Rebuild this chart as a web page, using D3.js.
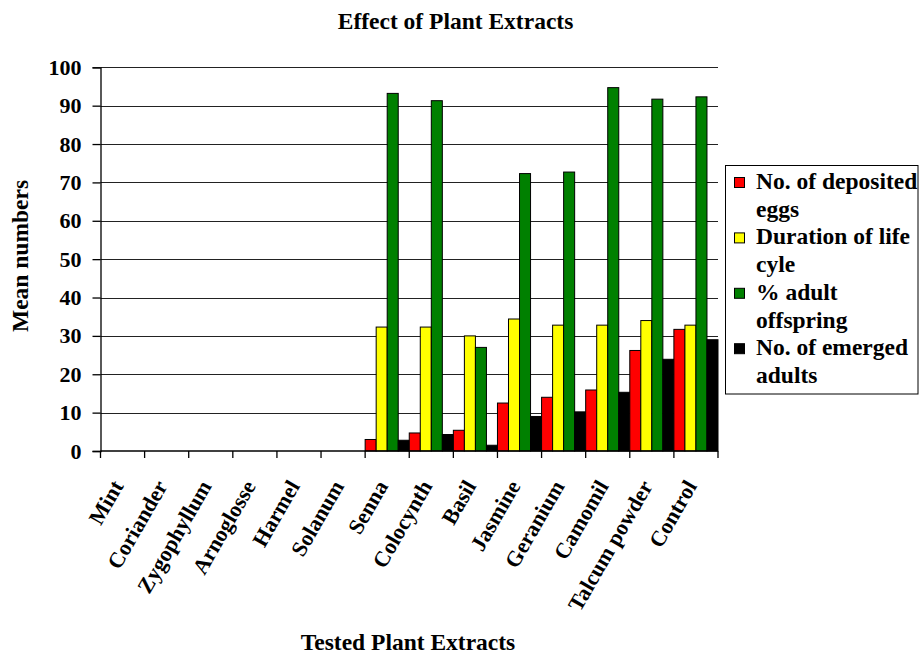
<!DOCTYPE html>
<html>
<head>
<meta charset="utf-8">
<script src="https://cdn.jsdelivr.net/npm/d3@7"></script>
<style>
  html, body { margin: 0; padding: 0; background: #fff; }
  svg { display: block; }
  text { font-family: "Liberation Serif", "Times New Roman", serif; font-weight: bold; fill: #000; }
</style>
</head>
<body>
<script>
// Plant extracts tested and the four measured quantities
const categories = ["Mint", "Coriander", "Zygophyllum", "Arnoglosse", "Harmel", "Solanum",
  "Senna", "Colocynth", "Basil", "Jasmine", "Geranium", "Camomil", "Talcum powder", "Control"];
const depositedEggs = [0, 0, 0, 0, 0, 0, 3.0, 4.7, 5.4, 12.5, 14.0, 15.9, 26.2, 31.7];
const lifeCycle     = [0, 0, 0, 0, 0, 0, 32.3, 32.3, 30.0, 34.4, 32.8, 32.8, 34.0, 32.8];
const adultOffspring = [0, 0, 0, 0, 0, 0, 93.2, 91.3, 27.0, 72.3, 72.7, 94.7, 91.7, 92.3];
const emergedAdults = [0, 0, 0, 0, 0, 0, 2.8, 4.3, 1.5, 9.0, 10.2, 15.3, 23.9, 29.0];
const seriesNames = [["No. of deposited", "eggs"], ["Duration of life", "cyle"],
  ["% adult", "offspring"], ["No. of emerged", "adults"]];
const seriesColors = ["#ff0000", "#ffff00", "#008000", "#000000"];
const yTicks = [0, 10, 20, 30, 40, 50, 60, 70, 80, 90, 100];

const seriesValues = [depositedEggs, lifeCycle, adultOffspring, emergedAdults];

const W = 920, H = 655;
const plot = { left: 100.5, right: 718, top: 67.3, bottom: 451 };
const tickFont = "22px", titleFont = "23.5px";

const svg = d3.select("body").append("svg").attr("width", W).attr("height", H);

const x = d3.scaleBand().domain(categories).range([plot.left, plot.right]).paddingInner(0).paddingOuter(0);
const xs = d3.scaleBand().domain(d3.range(seriesValues.length)).range([0, x.bandwidth()]).padding(0);
const y = d3.scaleLinear().domain([0, 100]).range([plot.bottom, plot.top]);

// Horizontal gridlines
svg.append("g").selectAll("line").data(yTicks.filter(t => t > 0)).join("line")
  .attr("x1", plot.left).attr("x2", plot.right)
  .attr("y1", d => Math.round(y(d)) + 0.5).attr("y2", d => Math.round(y(d)) + 0.5)
  .attr("stroke", "#222").attr("stroke-width", 1);

// Bars
const rows = categories.map((c, i) => ({ c, vals: seriesValues.map(s => s[i]) }));
const groups = svg.append("g").selectAll("g").data(rows).join("g")
  .attr("transform", d => `translate(${x(d.c)},0)`);
groups.selectAll("rect").data(d => d.vals.map((v, k) => ({ v, k }))).join("rect")
  .filter(d => d.v > 0)
  .attr("x", d => xs(d.k))
  .attr("width", xs.bandwidth())
  .attr("y", d => y(d.v))
  .attr("height", d => y(0) - y(d.v))
  .attr("fill", d => seriesColors[d.k])
  .attr("stroke", "#000").attr("stroke-width", 1);

// Y axis
const yAxis = svg.append("g").attr("transform", `translate(${plot.left},0)`)
  .call(d3.axisLeft(y).tickValues(yTicks).tickSize(8).tickPadding(11).tickFormat(d3.format("d")));
yAxis.select(".domain").attr("stroke", "#000").attr("stroke-width", 1.3);
yAxis.selectAll(".tick line").attr("stroke", "#000").attr("stroke-width", 1.3);
yAxis.selectAll("text").style("font-size", tickFont).style("font-family", null);

// X axis with ticks at category boundaries
const xAxisG = svg.append("g").attr("transform", `translate(0,${plot.bottom})`);
xAxisG.append("line").attr("x1", plot.left).attr("x2", plot.right)
  .attr("stroke", "#000").attr("stroke-width", 1.3);
const bounds = categories.map(c => x(c)).concat([plot.right]);
xAxisG.selectAll("line.tk").data(bounds).join("line").attr("class", "tk")
  .attr("x1", d => d).attr("x2", d => d).attr("y1", 0).attr("y2", 7)
  .attr("stroke", "#000").attr("stroke-width", 1.3);
xAxisG.selectAll("text").data(categories).join("text")
  .attr("transform", d => `translate(${x(d) + x.bandwidth() / 2 + 1.5},35) rotate(-60)`)
  .attr("text-anchor", "end")
  .style("font-size", tickFont)
  .text(d => d);

// Titles
svg.append("text").attr("x", 455.5).attr("y", 29).attr("text-anchor", "middle")
  .style("font-size", titleFont).text("Effect of Plant Extracts");
svg.append("text").attr("x", 408).attr("y", 650).attr("text-anchor", "middle")
  .style("font-size", titleFont).text("Tested Plant Extracts");
svg.append("text").attr("transform", "translate(28,256) rotate(-90)").attr("text-anchor", "middle")
  .style("font-size", titleFont).text("Mean numbers");

// Legend
const lg = svg.append("g");
lg.append("rect").attr("x", 725.5).attr("y", 165.5).attr("width", 192.5).attr("height", 228.5)
  .attr("fill", "#fff").attr("stroke", "#000").attr("stroke-width", 1);
const lineH = 27.7, firstBase = 189;
seriesNames.forEach((lines, k) => {
  const base = firstBase + k * 2 * lineH;
  lg.append("rect").attr("x", 734.5).attr("y", base - 11.5).attr("width", 10).attr("height", 10)
    .attr("fill", seriesColors[k]).attr("stroke", "#000").attr("stroke-width", 1);
  lines.forEach((t, j) => {
    lg.append("text").attr("x", 756).attr("y", base + j * lineH)
      .style("font-size", titleFont).text(t);
  });
});
</script>
</body>
</html>
